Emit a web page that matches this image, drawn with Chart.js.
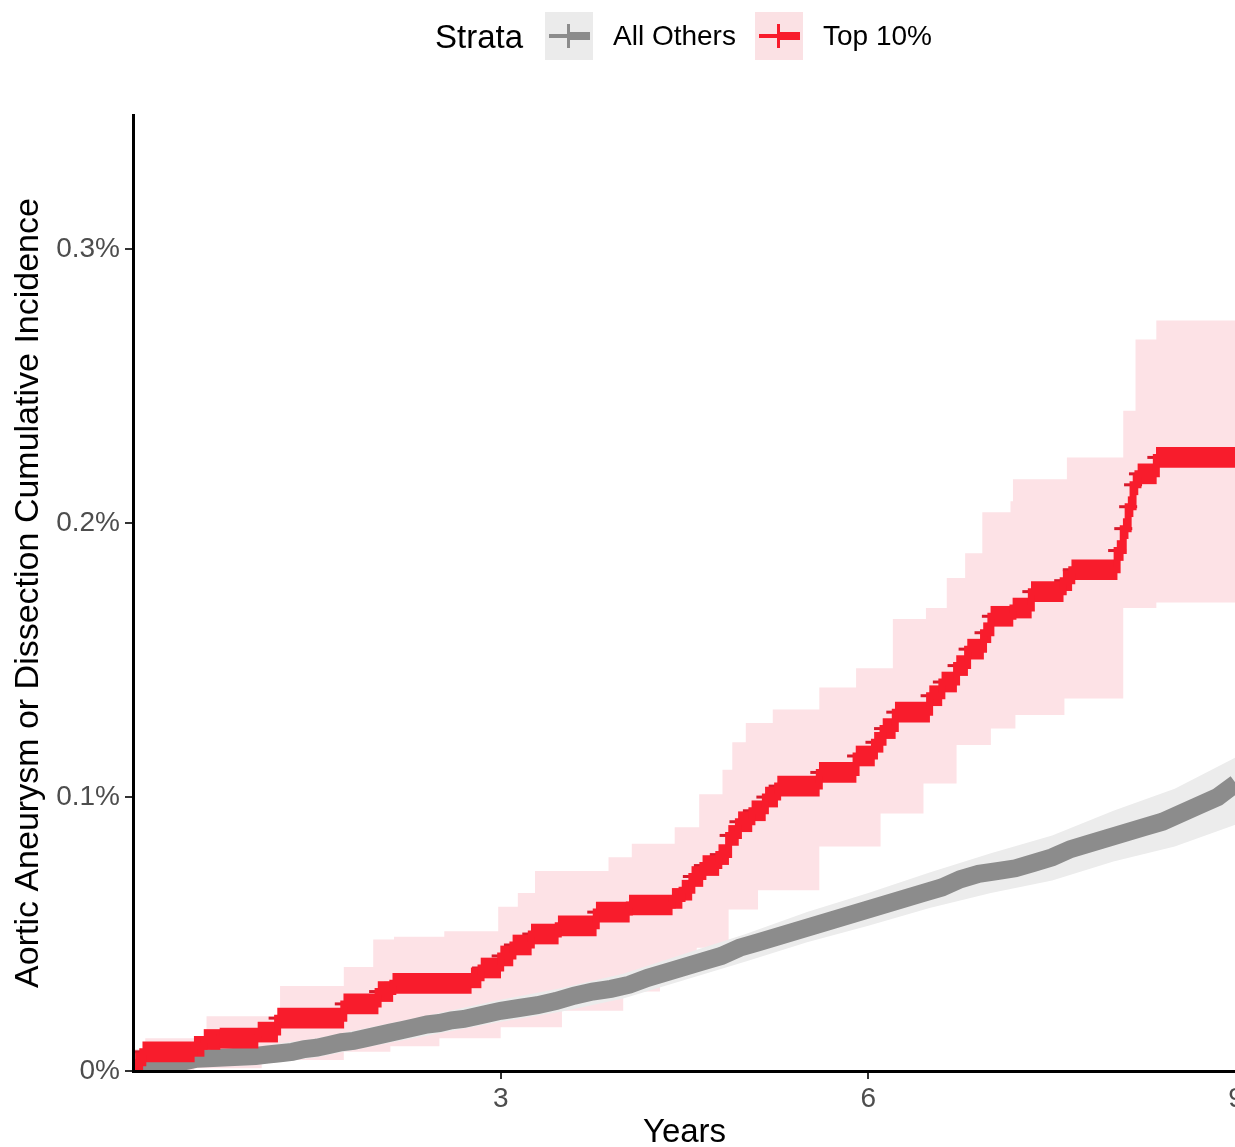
<!DOCTYPE html>
<html>
<head>
<meta charset="utf-8">
<title>Aortic Aneurysm or Dissection Cumulative Incidence</title>
<script src="https://cdn.jsdelivr.net/npm/chart.js@4.4.1/dist/chart.umd.min.js"></script>
<style>
    html, body { margin: 0; padding: 0; background: #fff; }
    body { width: 1235px; height: 1147px; position: relative; overflow: hidden;
           font-family: "Liberation Sans", Arial, sans-serif; }
    /* canvas is a bit wider than the page so the last x label is cut like the original */
    #c { position: absolute; left: 0; top: 0; }
    .lg { position: absolute; white-space: nowrap; color: #000; line-height: 1; }
    .lg-title { left: 435px; top: 36px; transform: translateY(-50%); font-size: 33px; }
    .lg-text { top: 36px; transform: translateY(-50%); font-size: 28px; }
    .key { position: absolute; top: 12px; width: 48px; height: 48px; }
    .key span { position: absolute; display: block; }
    .key .thin { left: 4px; right: 3px; top: 22px; height: 4px; }
    .key .thick { left: 24px; right: 3px; top: 20px; height: 8px; }
    .key .vert { left: 22px; width: 3px; top: 12px; height: 24px; }
    .k-gray { background: #ebebeb; }
    .k-gray span { background: #8c8c8c; }
    .k-red { background: #fbe1e4; }
    .k-red span { background: #f81c2c; }
</style>
</head>
<body>
<canvas id="c" width="1248" height="1147"></canvas>

<div class="lg lg-title">Strata</div>
<div class="key k-gray" style="left:545px"><span class="thin"></span><span class="thick"></span><span class="vert"></span></div>
<div class="lg lg-text" style="left:613px">All Others</div>
<div class="key k-red" style="left:755px"><span class="thin"></span><span class="thick"></span><span class="vert"></span></div>
<div class="lg lg-text" style="left:823px">Top 10%</div>

<script>
// AXIS TICKS
var xTicks = [3, 6, 9];
var yTicks = [0, 0.1, 0.2, 0.3];
var yTickLabels = ["0%", "0.1%", "0.2%", "0.3%"];

// TOP 10% - estimate (years, % cumulative incidence)
var redT = [0, 0.02, 0.08, 0.50, 0.58, 0.71, 1.02, 1.18, 1.72, 2.00, 2.12, 2.76, 2.84, 3.00, 3.10,
    3.25, 3.47, 3.78, 4.05, 4.40, 4.48, 4.56, 4.65, 4.78, 4.86, 4.94, 5.05, 5.16, 5.26, 5.60, 5.90,
    6.05, 6.12, 6.22, 6.50, 6.60, 6.72, 6.81, 6.94, 7.00, 7.18, 7.33, 7.59, 7.66, 8.03, 8.08, 8.12,
    8.16, 8.20, 8.35, 9.00];
var redV = [0, 0.003, 0.007, 0.009, 0.0115, 0.012, 0.0142, 0.0193, 0.0245, 0.029, 0.032, 0.034,
    0.0376, 0.042, 0.046, 0.050, 0.053, 0.058, 0.0606, 0.063, 0.066, 0.071, 0.075, 0.079, 0.086,
    0.091, 0.095, 0.100, 0.104, 0.109, 0.115, 0.120, 0.125, 0.131, 0.137, 0.142, 0.148, 0.154,
    0.160, 0.166, 0.169, 0.175, 0.179, 0.183, 0.190, 0.198, 0.206, 0.214, 0.218, 0.224, 0.224];

// TOP 10% - confidence band
var redHiT = [0, 0.1, 0.6, 1.2, 1.72, 1.96, 2.13, 2.54, 2.98, 3.14, 3.28, 3.88, 4.07, 4.42, 4.62,
    4.81, 4.89, 5.0, 5.22, 5.6, 5.9, 6.2, 6.47, 6.64, 6.79, 6.93, 7.16, 7.18, 7.62, 8.08, 8.18, 8.35, 9];
var redHi = [0.008, 0.012, 0.020, 0.031, 0.038, 0.048, 0.049, 0.051, 0.060, 0.065, 0.073, 0.078,
    0.083, 0.089, 0.101, 0.110, 0.120, 0.127, 0.132, 0.140, 0.147, 0.165, 0.169, 0.180, 0.189,
    0.204, 0.208, 0.216, 0.224, 0.241, 0.267, 0.274, 0.274];
var redLoT = [0, 0.5, 1.05, 1.72, 2.1, 2.5, 3.0, 3.5, 4.0, 4.3, 4.6, 4.86, 5.1, 5.6, 6.1, 6.45,
    6.72, 7.0, 7.2, 7.6, 8.08, 8.35, 9];
var redLo = [0, 0.001, 0.004, 0.007, 0.009, 0.012, 0.016, 0.022, 0.029, 0.035, 0.045, 0.059,
    0.066, 0.082, 0.094, 0.105, 0.119, 0.125, 0.130, 0.136, 0.169, 0.171, 0.171];

// ALL OTHERS - estimate
var grayT = [0, 0.15, 0.52, 1.0, 1.1, 1.2, 1.3, 1.4, 1.5, 1.6, 1.7, 1.8, 1.9, 2.0, 2.1, 2.2, 2.3,
    2.4, 2.5, 2.6, 2.7, 2.8, 2.9, 3.0, 3.15, 3.3, 3.45, 3.6, 3.75, 3.9, 4.05, 4.2, 4.35, 4.5, 4.65,
    4.8, 4.95, 5.1, 5.25, 5.4, 5.55, 5.7, 5.85, 6.0, 6.15, 6.3, 6.45, 6.6, 6.75, 6.9, 7.05, 7.2,
    7.35, 7.5, 7.65, 7.8, 7.95, 8.1, 8.25, 8.4, 8.55, 8.7, 8.85, 9.0];
var grayV = [0, 0.001, 0.0045, 0.0055, 0.006, 0.0065, 0.007, 0.008, 0.0085, 0.0095, 0.0105, 0.011,
    0.012, 0.013, 0.014, 0.015, 0.016, 0.017, 0.0175, 0.0185, 0.019, 0.020, 0.021, 0.022, 0.023,
    0.024, 0.0255, 0.0275, 0.029, 0.030, 0.0315, 0.034, 0.036, 0.038, 0.040, 0.042, 0.045, 0.047,
    0.049, 0.051, 0.053, 0.055, 0.057, 0.059, 0.061, 0.063, 0.065, 0.067, 0.070, 0.072, 0.073,
    0.074, 0.076, 0.078, 0.081, 0.083, 0.085, 0.087, 0.089, 0.091, 0.094, 0.097, 0.100, 0.105];

// ALL OTHERS - confidence band
var grayBandT = [0, 0.5, 1, 1.5, 2, 2.5, 3, 3.5, 4, 4.5, 5, 5.5, 6, 6.5, 7, 7.5, 8, 8.5, 9];
var grayHi = [0.0015, 0.0075, 0.0088, 0.012, 0.0165, 0.0212, 0.026, 0.0303, 0.0355, 0.0428, 0.050,
    0.058, 0.065, 0.0725, 0.0795, 0.086, 0.095, 0.103, 0.1145];
var grayLo = [0, 0.0015, 0.0022, 0.005, 0.0095, 0.0138, 0.018, 0.0217, 0.0265, 0.0332, 0.040,
    0.047, 0.053, 0.0595, 0.065, 0.0695, 0.0765, 0.082, 0.090];

var RED = "#f81c2c";
var GRAY = "#8c8c8c";
var FONT = '"Liberation Sans", Arial, sans-serif';

function pts(ts, vs) {
    return ts.map(function (t, i) {
        return { x: t, y: vs[i] };
    });
}

// every level of the red curve as a floating horizontal bar (the dense "+" marks)
var redLevels = redT.slice(0, -1).map(function (t, i) {
    return { x: [t, redT[i + 1]], y: redV[i] };
});

function band(data, color, fill, order, stepped) {
    return {
        data: data,
        stepped: stepped,
        borderColor: "rgba(0,0,0,0)",
        borderWidth: 1,
        backgroundColor: color,
        pointRadius: 0,
        fill: fill,
        clip: 0,
        order: order,
    };
}

function fixAxis(width, height) {
    return function (scale) {
        if (width) scale.width = width;
        if (height) scale.height = height;
        scale.paddingLeft = 0;
        scale.paddingRight = 0;
        scale.paddingTop = 0;
        scale.paddingBottom = 0;
    };
}

Chart.defaults.font.family = FONT;

var chart = new Chart(document.getElementById("c"), {
    type: "line",
    data: {
        datasets: [
            band(pts(redLoT, redLo), "#fde2e6", false, 7, true),
            band(pts(redHiT, redHi), "#fde2e6", "-1", 6, true),
            band(pts(grayBandT, grayLo), "#ececec", false, 5, false),
            band(pts(grayBandT, grayHi), "#ececec", "-1", 4, false),
            {
                data: pts(grayT, grayV),
                borderColor: GRAY,
                borderWidth: 18,
                pointRadius: 0,
                fill: false,
                clip: 0,
                order: 3,
            },
            {
                // censoring ticks
                data: pts(redT.slice(1, -1), redV.slice(1, -1)),
                showLine: false,
                pointStyle: "line",
                pointRadius: 9,
                pointBorderWidth: 3,
                pointBorderColor: "#d8192b",
                pointBackgroundColor: "#d8192b",
                clip: 0,
                order: 2,
            },
            {
                type: "bar",
                indexAxis: "y",
                data: redLevels,
                backgroundColor: RED,
                borderWidth: 0,
                barThickness: 20,
                grouped: false,
                clip: 0,
                order: 1,
            },
            {
                data: pts(redT, redV),
                stepped: true,
                borderColor: RED,
                borderWidth: 7,
                borderJoinStyle: "miter",
                pointRadius: 0,
                fill: false,
                clip: 0,
                order: 0,
            },
        ],
    },
    options: {
        responsive: false,
        animation: false,
        devicePixelRatio: 1,
        events: [],
        layout: { padding: { top: 115, right: 3, bottom: 0, left: 0 } },
        plugins: {
            legend: { display: false },
            tooltip: { enabled: false },
        },
        scales: {
            x: {
                type: "linear",
                min: 0,
                max: 9,
                offset: false,
                afterBuildTicks: function (s) {
                    s.ticks = xTicks.map(function (v) { return { value: v }; });
                },
                afterFit: fixAxis(0, 76),
                grid: { display: true, drawOnChartArea: false, drawTicks: true, tickLength: 8, color: "#333", lineWidth: 2, offset: false },
                border: { display: true, color: "#000", width: 3, z: 1 },
                ticks: {
                    color: "#4d4d4d",
                    font: { size: 28 },
                    padding: 3,
                    maxRotation: 0,
                    autoSkip: false,
                    callback: function (v) { return String(v); },
                },
                title: {
                    display: true,
                    text: "Years",
                    color: "#000",
                    font: { size: 33, lineHeight: 0.85 },
                    padding: { top: 0, bottom: 0 },
                },
            },
            y: {
                type: "linear",
                min: 0,
                max: 0.349,
                offset: false,
                afterBuildTicks: function (s) {
                    s.ticks = yTicks.map(function (v) { return { value: v }; });
                },
                afterFit: fixAxis(133, 0),
                grid: { display: true, drawOnChartArea: false, drawTicks: true, tickLength: 8, color: "#333", lineWidth: 2, offset: false },
                border: { display: true, color: "#000", width: 3, z: 1 },
                ticks: {
                    color: "#4d4d4d",
                    font: { size: 28 },
                    padding: 5,
                    autoSkip: false,
                    callback: function (v, i) { return yTickLabels[i]; },
                },
                title: {
                    display: true,
                    text: "Aortic Aneurysm or Dissection Cumulative Incidence",
                    color: "#000",
                    font: { size: 34, lineHeight: 1.2 },
                    padding: { top: 8, bottom: 0 },
                },
            },
        },
    },
});
</script>
</body>
</html>
